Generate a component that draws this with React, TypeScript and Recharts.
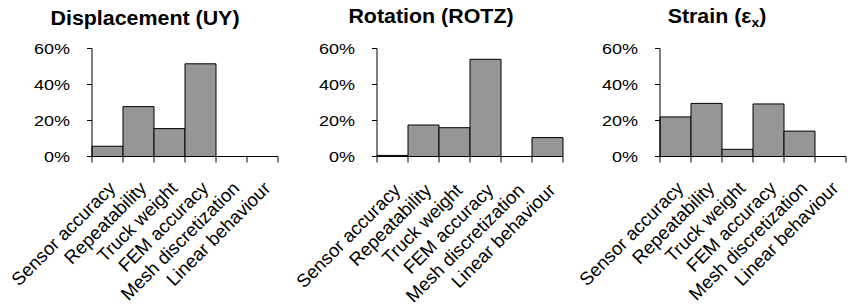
import React from 'react';
import { BarChart, Bar, XAxis, YAxis } from 'recharts';

const categories = ['Sensor accuracy', 'Repeatability', 'Truck weight', 'FEM accuracy', 'Mesh discretization', 'Linear behaviour'];
const displacementValues = [0.057, 0.277, 0.155, 0.515, 0, 0];
const rotationValues = [0.006, 0.175, 0.16, 0.54, 0, 0.105];
const strainValues = [0.22, 0.295, 0.04, 0.292, 0.141, 0];
const yTicks = [0, 0.2, 0.4, 0.6];

const FONT = '"Liberation Sans", Arial, sans-serif';
const PLOT_W = 186;
const HALF_BAND = PLOT_W / categories.length / 2;

const toRows = (vals: number[]) => categories.map((name, i) => ({ name, value: vals[i] }));

const YTick = (props: any) => {
  const { x, y, payload } = props;
  return (
    <text
      transform={`translate(${x},${y}) scale(1.2,1)`}
      x={0}
      y={0}
      dy="0.36em"
      textAnchor="end"
      fontFamily={FONT}
      fontSize={15}
      fill="#000"
    >
      {`${Math.round(payload.value * 100)}%`}
    </text>
  );
};

const XTick = (props: any) => {
  const { x, y, payload, index, labelDy } = props;
  const last = index === categories.length - 1;
  return (
    <g>
      <line x1={x - HALF_BAND} y1={y} x2={x - HALF_BAND} y2={y + 6} stroke="#000" strokeWidth={1} />
      {last && <line x1={x + HALF_BAND} y1={y} x2={x + HALF_BAND} y2={y + 6} stroke="#000" strokeWidth={1} />}
      <text
        transform={`translate(${x + 9},${y + labelDy}) rotate(-45)`}
        x={0}
        y={0}
        textAnchor="end"
        fontFamily={FONT}
        fontSize={18.5}
        fill="#000"
      >
        {payload.value}
      </text>
    </g>
  );
};

const Panel = ({ data, left, width, right, labelDy }: { data: number[]; left: number; width: number; right: number; labelDy: number }) => (
  <div style={{ position: 'absolute', left, top: 0 }}>
    <BarChart
      width={width}
      height={307}
      data={toRows(data)}
      margin={{ top: 48.5, right, bottom: 0, left: 0 }}
      barCategoryGap={0}
      barGap={0}
    >
      <XAxis
        dataKey="name"
        interval={0}
        tickLine={false}
        tickSize={0}
        tickMargin={0}
        height={150.5}
        axisLine={{ stroke: '#000', strokeWidth: 1 }}
        tick={<XTick labelDy={labelDy} />}
      />
      <YAxis
        domain={[0, 0.6]}
        ticks={yTicks}
        width={92}
        tickSize={5}
        tickMargin={17}
        axisLine={{ stroke: '#000', strokeWidth: 1 }}
        tickLine={{ stroke: '#000', strokeWidth: 1 }}
        tick={<YTick />}
        allowDataOverflow
      />
      <Bar dataKey="value" fill="#969696" stroke="#000" strokeWidth={1} isAnimationActive={false} />
    </BarChart>
  </div>
);

export default function App() {
  return (
    <div style={{ position: 'absolute', left: 0, top: 0, width: 848, height: 307, background: '#fff', overflow: 'hidden' }}>
      <Panel data={displacementValues} left={0} width={285} right={7} labelDy={33} />
      <Panel data={rotationValues} left={285} width={285} right={7} labelDy={35} />
      <Panel data={strainValues} left={568} width={280} right={2} labelDy={33} />
      <svg width={848} height={40} style={{ position: 'absolute', left: 0, top: 0, pointerEvents: 'none' }}>
        <g fontFamily={FONT} fontWeight="bold" fontSize={20} fill="#000">
          <text transform="translate(145,25) scale(1.07,1)" textAnchor="middle">Displacement (UY)</text>
          <text transform="translate(431,23) scale(1.07,1)" textAnchor="middle">Rotation (ROTZ)</text>
          <text transform="translate(717,23) scale(1.07,1)" textAnchor="middle">
            Strain (ε<tspan fontSize={13} dy={4}>x</tspan><tspan dy={-4}>)</tspan>
          </text>
        </g>
      </svg>
    </div>
  );
}
